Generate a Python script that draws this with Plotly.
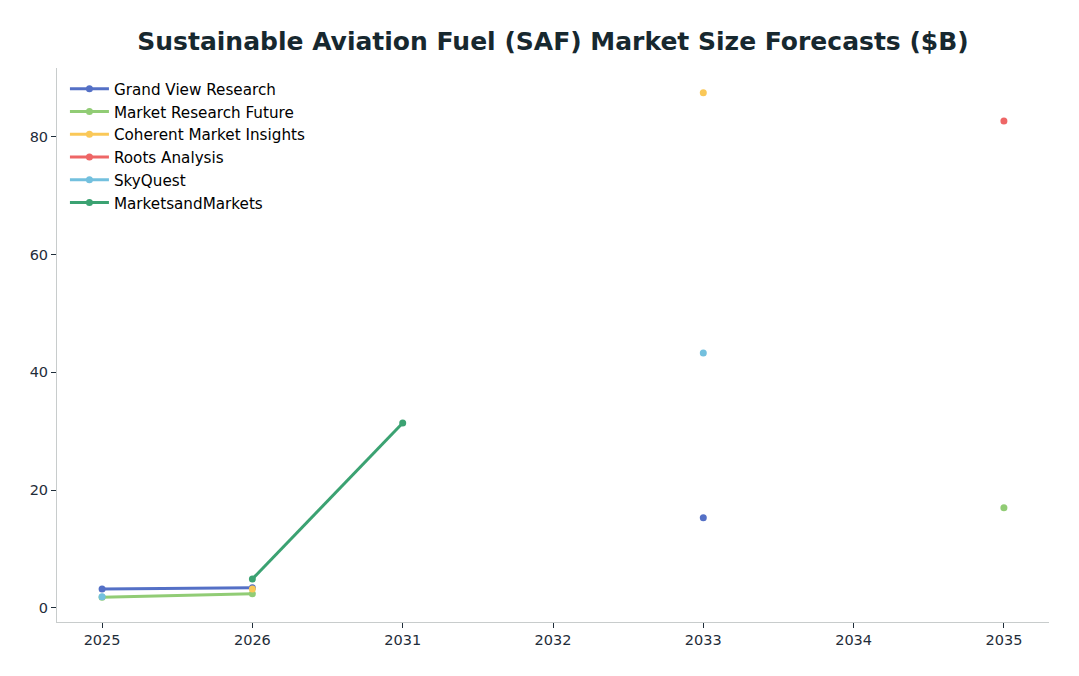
import plotly.graph_objects as go

years = ["2025", "2026", "2031", "2032", "2033", "2034", "2035"]
series_names = ["Grand View Research", "Market Research Future", "Coherent Market Insights",
                "Roots Analysis", "SkyQuest", "MarketsandMarkets"]
grand_view = [3.2, 3.4, None, None, 15.3, None, None]
mrf = [1.8, 2.4, None, None, None, None, 17.0]
coherent = [None, 3.2, None, None, 87.5, None, None]
roots = [None, None, None, None, None, None, 82.7]
skyquest = [1.9, None, None, None, 43.3, None, None]
mandm = [None, 4.9, 31.4, None, None, None, None]
colors = ["#5470c6", "#91cc75", "#fac858", "#ee6666", "#73c0de", "#3ba272"]

data = [grand_view, mrf, coherent, roots, skyquest, mandm]

fig = go.Figure()
for name, vals, c in zip(series_names, data, colors):
    fig.add_trace(go.Scatter(x=years, y=vals, name=name, mode="lines+markers",
                             line=dict(color=c, width=3), marker=dict(color=c, size=7),
                             connectgaps=False))

fig.update_layout(
    width=1079, height=676,
    paper_bgcolor="white", plot_bgcolor="white",
    font=dict(family="DejaVu Sans", color="#1f2d3a", size=14),
    title=dict(text="<b>Sustainable Aviation Fuel (SAF) Market Size Forecasts ($B)</b>",
               x=0.5, xref="paper", xanchor="center", y=0.951, yanchor="middle",
               font=dict(size=25, color="#17282f")),
    margin=dict(l=49, r=38, t=60, b=62, autoexpand=False),
    legend=dict(x=0.008, y=0.992, xanchor="left", yanchor="top", bgcolor="rgba(0,0,0,0)",
                font=dict(size=15.2, color="#000"), tracegroupgap=0, itemwidth=39),
    showlegend=True,
)
fig.update_xaxes(type="category", categoryorder="array", categoryarray=years,
                 range=[-0.3, 6.3], showgrid=False, zeroline=False,
                 showline=True, linecolor="#c8cccc", ticks="outside", ticklen=5,
                 tickcolor="#1f2d3a", tickfont=dict(size=14.5), automargin=False)
fig.update_yaxes(range=[-2.4, 91.7], showgrid=False, zeroline=False,
                 showline=True, linecolor="#c8cccc", ticks="outside", ticklen=5,
                 tickcolor="#1f2d3a", dtick=20, tickfont=dict(size=14.5), automargin=False)

fig.write_html("out.html")
